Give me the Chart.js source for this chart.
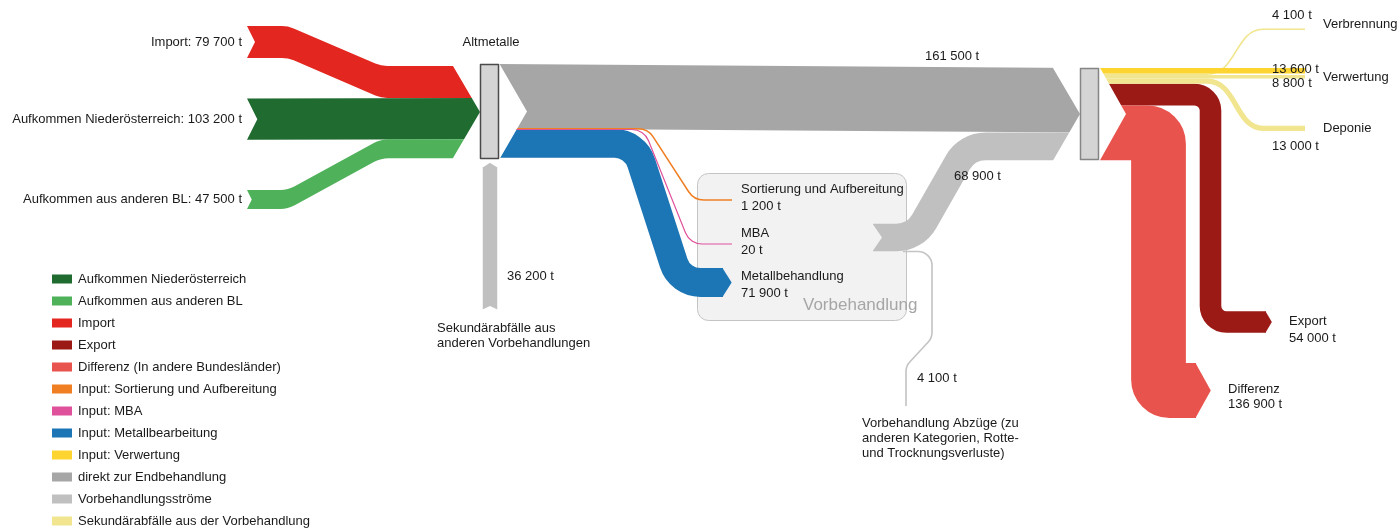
<!DOCTYPE html>
<html lang="de">
<head>
<meta charset="utf-8">
<title>Altmetalle – Stoffflüsse</title>
<script src="https://cdn.jsdelivr.net/npm/chart.js@4.4.1/dist/chart.umd.min.js"></script>
<style>
  html, body { margin: 0; padding: 0; background: #fff; }
  #wrap { width: 1400px; height: 531px; }
</style>
</head>
<body>
<div id="wrap"><canvas id="sankey" width="1400" height="531"></canvas></div>
<script>
// --- data (t) ---
const inputLabels = ["Import", "Aufkommen Niederösterreich", "Aufkommen aus anderen BL"];
const inputValues = [79700, 103200, 47500];
const directValue = 161500;
const treatmentLabels = ["Sortierung und Aufbereitung", "MBA", "Metallbehandlung"];
const treatmentValues = [1200, 20, 71900];
const secondaryInValue = 36200;
const treatedOutValue = 68900;
const deductionValue = 4100;
const verwertungInputValue = 13600;
const secondaryOutLabels = ["Verbrennung", "Verwertung", "Deponie"];
const secondaryOutValues = [4100, 8800, 13000];
const exitLabels = ["Export", "Differenz"];
const exitValues = [54000, 136900];

const legendLabels = [
    "Aufkommen Niederösterreich", "Aufkommen aus anderen BL", "Import", "Export",
    "Differenz (In andere Bundesländer)", "Input: Sortierung und Aufbereitung", "Input: MBA",
    "Input: Metallbearbeitung", "Input: Verwertung", "direkt zur Endbehandlung",
    "Vorbehandlungsströme", "Sekundärabfälle aus der Vorbehandlung",
];
const legendColors = [
    "#1f6b30", "#4fb25a", "#e42620", "#9b1a16", "#e9534d", "#f07f23", "#e0519b",
    "#1c76b5", "#fed530", "#a6a6a6", "#c0c0c0", "#f1e68f",
];

const K = 0.0004; // chart units per tonne
const FONT = '"Liberation Sans", Arial, sans-serif';

function fmt(v) {
    return String(v).replace(/\B(?=(\d{3})+(?!\d))/g, " ") + " t";
}

function roundedLine(ctx, pts, r) {
    ctx.moveTo(pts[0][0], pts[0][1]);
    for (let i = 1; i < pts.length - 1; i++) {
        ctx.arcTo(pts[i][0], pts[i][1], pts[i + 1][0], pts[i + 1][1], r);
    }
    ctx.lineTo(pts[pts.length - 1][0], pts[pts.length - 1][1]);
}

function pipe(ctx, pts, w, color, r, tip) {
    ctx.beginPath();
    roundedLine(ctx, pts, r);
    ctx.strokeStyle = color;
    ctx.lineWidth = w;
    ctx.lineCap = "butt";
    ctx.lineJoin = "round";
    ctx.stroke();
    if (tip) {
        const a = pts[pts.length - 2], b = pts[pts.length - 1];
        const len = Math.hypot(b[0] - a[0], b[1] - a[1]);
        const dx = (b[0] - a[0]) / len, dy = (b[1] - a[1]) / len;
        const nx = -dy, ny = dx;
        ctx.beginPath();
        ctx.moveTo(b[0] - dx * 0.5 + nx * w / 2, b[1] - dy * 0.5 + ny * w / 2);
        ctx.lineTo(b[0] + dx * tip * w, b[1] + dy * tip * w);
        ctx.lineTo(b[0] - dx * 0.5 - nx * w / 2, b[1] - dy * 0.5 - ny * w / 2);
        ctx.closePath();
        ctx.fillStyle = color;
        ctx.fill();
    }
}

function ribbon(ctx, top, w, color, r, notch) {
    const bot = top.map(([x, y]) => [x, y + w]).reverse();
    ctx.beginPath();
    roundedLine(ctx, top, r);
    ctx.lineTo(bot[0][0], bot[0][1]);
    for (let i = 1; i < bot.length - 1; i++) {
        ctx.arcTo(bot[i][0], bot[i][1], bot[i + 1][0], bot[i + 1][1], r);
    }
    ctx.lineTo(bot[bot.length - 1][0], bot[bot.length - 1][1]);
    ctx.lineTo(top[0][0] + notch * w, top[0][1] + w / 2);
    ctx.closePath();
    ctx.fillStyle = color;
    ctx.fill();
}

function withCutouts(ctx, polys, fn) {
    ctx.save();
    ctx.beginPath();
    ctx.rect(0, 0, ctx.canvas.width, ctx.canvas.height);
    polys.forEach((p) => {
        ctx.moveTo(p[0][0], p[0][1]);
        p.slice(1).forEach((q) => ctx.lineTo(q[0], q[1]));
        ctx.closePath();
    });
    ctx.clip("evenodd");
    fn();
    ctx.restore();
}

function text(ctx, str, x, y, align = "left", color = "#1a1a1a", size = 13) {
    ctx.font = `${size}px ${FONT}`;
    ctx.fillStyle = color;
    ctx.textAlign = align;
    ctx.textBaseline = "middle";
    ctx.fillText(str, x, y);
}

const sankeyPlugin = {
    id: "sankeyFlows",
    afterDraw(chart) {
        const ctx = chart.ctx;
        const xs = chart.scales.x, ys = chart.scales.y;
        const P = (x, y) => [xs.getPixelForValue(x), ys.getPixelForValue(y)];
        const T = (v) => Math.abs(ys.getPixelForValue(v * K) - ys.getPixelForValue(0));
        const route = (arr) => arr.map(([x, y]) => P(x, y));

        ctx.save();

        // Vorbehandlung box
        const b0 = P(697, 173), b1 = P(906, 320);
        ctx.beginPath();
        ctx.roundRect(b0[0] + 0.5, b0[1] + 0.5, b1[0] - b0[0], b1[1] - b0[1], 11);
        ctx.fillStyle = "#f2f2f2";
        ctx.fill();
        ctx.strokeStyle = "#c4c4c4";
        ctx.lineWidth = 1;
        ctx.stroke();

        // Altmetalle outputs (stacked from node top)
        const leftNotch = [P(499, 63), P(527, 111.5), P(499, 160)];
        const rightChevron = [
            [P(1053, 68), P(1053, 50), P(1084, 50), P(1084, 114), P(1080, 114)],
            [P(1053, 160.5), P(1053, 180), P(1084, 180), P(1084, 114), P(1080, 114)],
        ];
        const wDirect = T(directValue);
        const wTreated = T(treatedOutValue);
        const topL = 64, topR = 68;
        withCutouts(ctx, [leftNotch, ...rightChevron], () => {
            const q = route([[499, topL], [1082, topR], [1082, topR + wDirect], [499, topL + wDirect]]);
            ctx.beginPath();
            q.forEach((p, i) => (i ? ctx.lineTo(p[0], p[1]) : ctx.moveTo(p[0], p[1])));
            ctx.closePath();
            ctx.fillStyle = legendColors[9];
            ctx.fill();
        });
        const treatedNotch = [P(872, 223), P(882, 237.5), P(872, 252)];
        withCutouts(ctx, [treatedNotch, ...rightChevron], () => {
            const yc = topR + wDirect + wTreated / 2;
            pipe(ctx, route([[873, 237.5], [915, 237.5], [967, yc], [1082, yc]]), wTreated, legendColors[10], 32, 0);
        });

        let y = topL + wDirect;
        const wT = treatmentValues.map(T);
        withCutouts(ctx, [leftNotch], () => {
            const wBlue = wT[2];
            const yBlue = y + wT[0] + wT[1] + wBlue / 2;
            pipe(ctx, route([[499, yBlue], [635, yBlue], [680, 282.5], [723, 282.5]]), wBlue, legendColors[7], 28, 0.3);
            pipe(ctx, route([[499, y + 0.2], [648, y + 0.2], [694, 200], [732, 200]]), Math.max(wT[0], 1.5), legendColors[5], 18, 0);
            pipe(ctx, route([[499, y + 0.9], [644, y + 0.9], [690, 244], [732, 244]]), Math.max(wT[1], 1.2), legendColors[6], 18, 0);
        });

        // Inputs into Altmetalle
        const inColors = [legendColors[2], legendColors[0], legendColors[1]];
        const inStart = [26, 98.5, 190];
        const inChevron = [
            [P(453, 66), P(453, 50), P(484, 50), P(484, 112), P(480, 112)],
            [P(453, 158), P(453, 175), P(484, 175), P(484, 112), P(480, 112)],
        ];
        let yi = 66;
        withCutouts(ctx, inChevron, () => {
            inputValues.forEach((v, i) => {
                const w = T(v);
                const y0 = inStart[i];
                const top = i === 1
                    ? route([[247, y0], [482, yi]])
                    : route([[247, y0], [288, y0], [381, yi], [482, yi]]);
                ribbon(ctx, top, w, inColors[i], 30, 0.25);
                yi += w;
            });
        });
        inputValues.forEach((v, i) => {
            const p = P(242, inStart[i] + T(v) / 2);
            text(ctx, `${inputLabels[i]}: ${fmt(v)}`, p[0], p[1], "right");
        });

        // Secondary waste from other pre-treatments (upwards into Altmetalle)
        const wSec = T(secondaryInValue);
        withCutouts(ctx, [[P(481, 310.3), P(490, 306), P(499, 310.3)]], () => {
            pipe(ctx, route([[490, 310], [490, 167]]), wSec, legendColors[10], 0, 0.3);
        });

        // Right node outputs
        const rightNotch = [P(1099, 66), P(1126, 114), P(1099, 162)];
        const wVerw = T(verwertungInputValue);
        const wSecOut = secondaryOutValues.map(T);
        const wExit = exitValues.map(T);
        const endY = [29.3, null, 128.3];
        withCutouts(ctx, [rightNotch], () => {
            let yr = topR;
            const yVerw = yr + wVerw / 2;
            yr += wVerw;
            const centers = [];
            wSecOut.forEach((w) => { centers.push(yr + w / 2); yr += w; });
            const yExp = yr + wExit[0] / 2;
            yr += wExit[0];
            const yDiff = yr + wExit[1] / 2;

            pipe(ctx, route([[1099, yExp], [1210.5, yExp], [1210.5, 322], [1266, 322]]), wExit[0], legendColors[3], 16, 0.27);
            pipe(ctx, route([[1099, yDiff], [1158.5, yDiff], [1158.5, 390.5], [1196, 390.5]]), wExit[1], legendColors[4], 11, 0.27);

            // secondary outputs (light yellow), S-curves
            centers.forEach((yc, i) => {
                const y1 = endY[i] === null ? yc : endY[i];
                const a = P(1099, yc), b = P(1207, yc), c = P(1263, y1), d = P(1305, y1);
                ctx.beginPath();
                ctx.moveTo(a[0], a[1]);
                ctx.lineTo(b[0], b[1]);
                ctx.bezierCurveTo(b[0] + 30, b[1], c[0] - 28, c[1], c[0], c[1]);
                ctx.lineTo(d[0], d[1]);
                ctx.strokeStyle = legendColors[11];
                ctx.lineWidth = wSecOut[i];
                ctx.lineCap = "butt";
                ctx.stroke();
            });
            pipe(ctx, route([[1099, yVerw], [1305, yVerw]]), wVerw, legendColors[8], 0, 0);
        });

        // Pre-treatment deductions
        pipe(ctx, route([[903, 251.5], [932, 251.5], [932, 338], [906, 366], [906, 406]]), T(deductionValue), "#c4c4c4", 14, 0);

        // Nodes
        const nodeBox = (x0, y0, x1, y1, stroke) => {
            const a = P(x0, y0), c = P(x1, y1);
            ctx.beginPath();
            ctx.rect(a[0], a[1], c[0] - a[0], c[1] - a[1]);
            ctx.fillStyle = "#d4d4d4";
            ctx.fill();
            ctx.strokeStyle = stroke;
            ctx.lineWidth = 1.5;
            ctx.stroke();
        };
        nodeBox(480.5, 64.5, 498.5, 158.5, "#4a4a4a");
        nodeBox(1080.5, 68.5, 1098.5, 159.5, "#858585");

        // Labels
        const L = (s, x, yy, align, color, size) => {
            const p = P(x, yy);
            text(ctx, s, p[0], p[1], align, color, size);
        };
        L("Altmetalle", 491, 42, "center");
        L(fmt(directValue), 925, 56);
        L(fmt(treatedOutValue), 954, 176);
        L(fmt(secondaryInValue), 507, 276);
        L("Sekundärabfälle aus", 437, 328);
        L("anderen Vorbehandlungen", 437, 343);
        const tY = [189, 233, 276];
        treatmentLabels.forEach((s, i) => {
            L(s, 741, tY[i]);
            L(fmt(treatmentValues[i]), 741, tY[i] + 17);
        });
        L("Vorbehandlung", 803, 305, "left", "#a6a6a6", 17);
        L(fmt(deductionValue), 917, 378);
        L("Vorbehandlung Abzüge (zu", 862, 423);
        L("anderen Kategorien, Rotte-", 862, 438);
        L("und Trocknungsverluste)", 862, 453);

        L(fmt(secondaryOutValues[0]), 1272, 15);
        L(secondaryOutLabels[0], 1323, 24);
        L(fmt(verwertungInputValue), 1272, 69);
        L(secondaryOutLabels[1], 1323, 77);
        L(fmt(secondaryOutValues[1]), 1272, 83);
        L(secondaryOutLabels[2], 1323, 128);
        L(fmt(secondaryOutValues[2]), 1272, 146);
        L(exitLabels[0], 1289, 321);
        L(fmt(exitValues[0]), 1289, 338);
        L(exitLabels[1], 1228, 389);
        L(fmt(exitValues[1]), 1228, 404);

        // Legend
        legendLabels.forEach((s, i) => {
            const yy = 279 + i * 22;
            const a = P(52, yy - 4.5), c = P(72, yy + 4.5);
            ctx.fillStyle = legendColors[i];
            ctx.fillRect(a[0], a[1], c[0] - a[0], c[1] - a[1]);
            L(s, 78, yy);
        });

        ctx.restore();
    },
};

new Chart(document.getElementById("sankey"), {
    type: "scatter",
    data: { datasets: [{ data: [], showLine: false }] },
    options: {
        responsive: false,
        animation: false,
        events: [],
        layout: { padding: 0 },
        plugins: { legend: { display: false }, tooltip: { enabled: false } },
        scales: {
            x: { type: "linear", min: 0, max: 1400, display: false },
            y: { type: "linear", min: 0, max: 531, reverse: true, display: false },
        },
    },
    plugins: [sankeyPlugin],
});
</script>
</body>
</html>
